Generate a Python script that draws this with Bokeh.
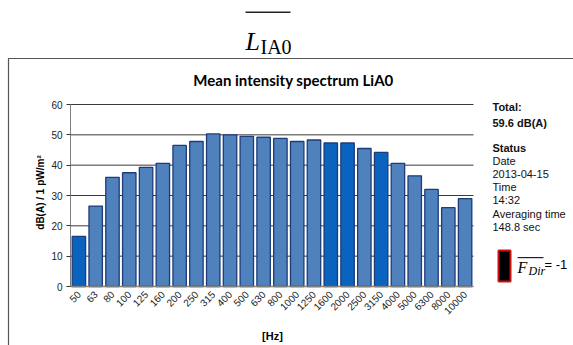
from bokeh.plotting import figure
from bokeh.models import ColumnDataSource, Label, BoxAnnotation, Range1d, FixedTicker, LinearAxis
from bokeh.embed import file_html
from bokeh.resources import INLINE
import math

freqs = ["50", "63", "80", "100", "125", "160", "200", "250", "315", "400", "500", "630",
         "800", "1000", "1250", "1600", "2000", "2500", "3150", "4000", "5000", "6300", "8000", "10000"]
levels = [16.5, 26.5, 36.0, 37.5, 39.3, 40.6, 46.5, 47.8, 50.3, 50.0, 49.5, 49.2,
          48.8, 47.8, 48.3, 47.3, 47.3, 45.5, 44.2, 40.6, 36.5, 32.0, 26.0, 29.0]
highlighted = ["50", "1600", "2000", "3150"]
y_ticks = [0, 10, 20, 30, 40, 50, 60]
grid_ticks = [10, 20, 30, 40, 50, 60]

title_text = "Mean intensity spectrum LiA0"
y_label = "dB(A) / 1 pW/m\u00b2"
x_label = "[Hz]"
status_lines = ["Total:", "59.6 dB(A)", "Status", "Date", "2013-04-15", "Time", "14:32",
                "Averaging time", "148.8 sec"]
status_bold = [True, True, True, False, False, False, False, False, False]

# ---- layout (canvas pixels) ----
W, H = 573, 345
FL, FR, FT, FB = 70, 473, 104, 286          # plotting area of the chart
n = len(freqs)
slot = (FR - FL) / n
ymax = y_ticks[-1]
ppu = (FB - FT) / ymax                      # pixels per dB

xs = list(range(n))
x0 = -0.5 - FL / slot
x1 = n - 0.5 + (W - FR) / slot
y0 = -(H - FB) / ppu
y1 = ymax + FT / ppu

colors = ["#0a63bf" if f in highlighted else "#4f81bd" for f in freqs]
src = ColumnDataSource(dict(x=xs, top=levels, color=colors))

p = figure(width=W, height=H, x_range=Range1d(x0, x1), y_range=Range1d(y0, y1),
           x_axis_type=None, y_axis_type=None,
           output_backend="svg", toolbar_location=None,
           min_border=0, min_border_left=0, min_border_right=0, min_border_top=0, min_border_bottom=0)
p.outline_line_color = None
p.background_fill_color = "white"
p.border_fill_color = "white"

# horizontal grid lines
p.segment(x0=[-0.5] * len(grid_ticks), x1=[n - 0.5] * len(grid_ticks), y0=grid_ticks, y1=grid_ticks,
          line_color="#3a3a3a", line_width=1)

p.vbar(x="x", top="top", width=0.8, source=src, fill_color="color",
       line_color="#1d3c78", line_width=1.3)

yaxis = LinearAxis(fixed_location=-0.5, bounds=(0, ymax), ticker=FixedTicker(ticks=y_ticks))
yaxis.major_label_text_font = "Liberation Sans"
yaxis.major_label_text_font_size = "10px"
yaxis.major_label_text_color = "#222"
yaxis.axis_line_color = "#7f7f7f"
yaxis.major_tick_line_color = "#333"
yaxis.major_tick_out = 4
yaxis.major_tick_in = 0
yaxis.minor_tick_line_color = None
yaxis.major_label_standoff = 4
p.add_layout(yaxis, "left")

xaxis = LinearAxis(fixed_location=0, bounds=(-0.5, n - 0.5), ticker=FixedTicker(ticks=xs),
                   major_label_overrides={i: f for i, f in enumerate(freqs)})
xaxis.major_label_orientation = math.pi / 4
xaxis.major_label_text_font = "Liberation Sans"
xaxis.major_label_text_font_size = "10px"
xaxis.major_label_text_color = "#222"
xaxis.axis_line_color = "#7f7f7f"
xaxis.axis_line_width = 1.5
xaxis.major_tick_line_color = None
xaxis.major_tick_out = 0
xaxis.major_tick_in = 0
xaxis.minor_tick_line_color = None
xaxis.major_label_standoff = 6
p.add_layout(xaxis, "below")


def lab(text, X, Y, size, bold=False, italic=False, font="Liberation Sans", align="left",
        angle=0.0, color="#000", baseline="middle"):
    style = "normal"
    if bold and italic:
        style = "bold italic"
    elif bold:
        style = "bold"
    elif italic:
        style = "italic"
    p.add_layout(Label(x=X, y=H - Y, x_units="screen", y_units="screen", text=text,
                       text_font=font, text_font_size=f"{size}px", text_font_style=style,
                       text_align=align, text_baseline=baseline, angle=angle,
                       text_color=color))


def box(X0, X1, Y0, Y1, fill, line=None, lw=1.0):
    p.add_layout(BoxAnnotation(left=X0, right=X1, top=H - Y0, bottom=H - Y1,
                               left_units="screen", right_units="screen",
                               top_units="screen", bottom_units="screen",
                               fill_color=fill if fill else "white", fill_alpha=1.0 if fill else 0.0,
                               line_color=line if line else (fill if fill else "white"),
                               line_width=lw, line_alpha=1.0 if line else 0.0, level="overlay"))


# outer frame
box(8, 640, 58, 400, None, "#555555", 1.2)

# top heading L_IA0 with overline
lab("L", 245, 41, 26, italic=True, font="Liberation Serif", baseline="alphabetic")
lab("IA0", 260, 46, 20, font="Liberation Serif", baseline="alphabetic")
box(245, 290, 11, 12.5, "#222222")

# chart title
lab(title_text, 293, 79, 15, bold=True, font="Lato", align="center")

# axis labels
lab(y_label, 40, 192, 10, bold=True, font="Liberation Sans", align="center", angle=math.pi / 2)
lab(x_label, 272, 335, 11, bold=True, font="Liberation Sans", align="center")

# status panel
ys = [106, 122, 147, 160, 173, 186, 199, 213, 226]
for t, yy, b in zip(status_lines, ys, status_bold):
    lab(t, 492, yy, 11, bold=b, color="#111")

# direction indicator
box(498, 510, 250, 281, "#000000", "#cc1111", 2)
lab("F", 517, 267, 16, italic=True, font="Liberation Serif")
lab("Dir", 528, 270, 12, italic=True, font="Liberation Serif")
box(517, 543, 256.5, 257.7, "#222222")
lab("= -1", 544, 264, 13, font="Liberation Sans")

open("out.html", "w").write(file_html(p, INLINE))
